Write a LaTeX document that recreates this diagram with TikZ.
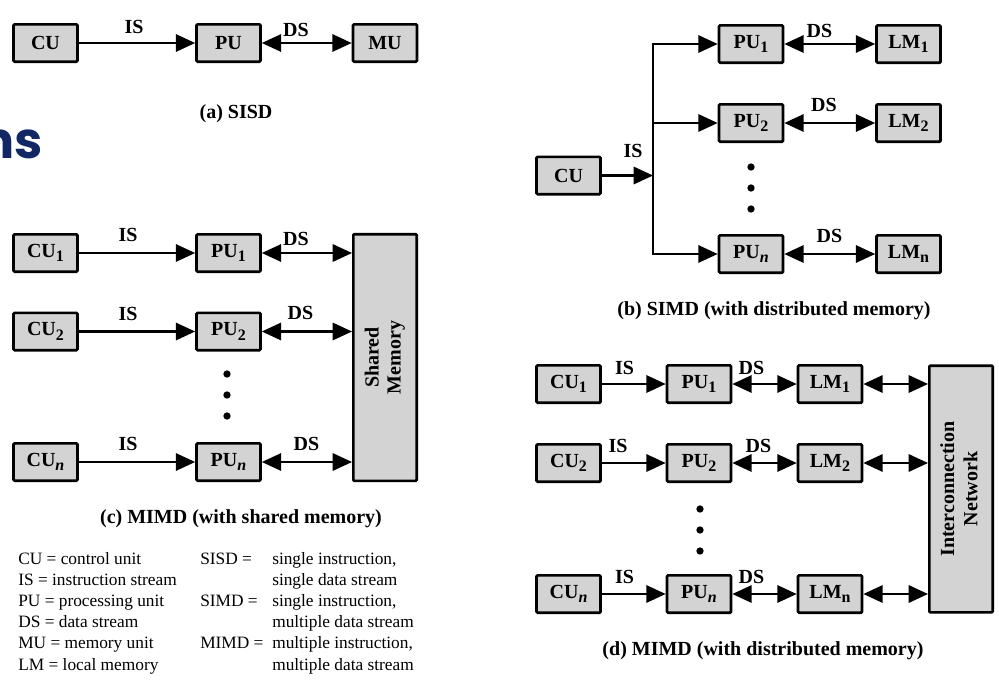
\documentclass[tikz,border=0pt]{standalone}
\usepackage{fontspec}
\setmainfont{Liberation Serif}
\newfontfamily\titlefont{Poppins}
\usetikzlibrary{arrows.meta}
\definecolor{boxgray}{RGB}{211,211,211}
\definecolor{navytitle}{RGB}{18,40,100}
\newcommand\ix[1]{\raisebox{-3.5pt}{\fontsize{12}{12}\selectfont #1}}
\begin{document}
\begin{tikzpicture}[x=0.75pt,y=-0.75pt,
  box/.style={draw=black,line width=2pt,rounded corners=0.8pt,fill=boxgray,minimum width=48pt,minimum height=28pt,inner sep=0pt,font=\fontsize{15}{18}\selectfont\bfseries},
  tall/.style={box,minimum width=47.5pt,minimum height=185pt,align=center,font=\fontsize{15}{17.5}\selectfont\bfseries},
  lbl/.style={font=\fontsize{15}{18}\selectfont\bfseries,inner sep=0pt},
  leg/.style={font=\fontsize{13}{15}\selectfont,inner sep=0pt,anchor=base west},
  tip/.tip={Triangle[length=14.5pt,width=13pt]},
  conn/.style={line width=1.6pt,-tip},
  bi/.style={line width=1.6pt,tip-tip},
  plain/.style={line width=1.6pt},
  dot/.style={circle,fill=black,inner sep=0pt,minimum size=5.5pt}]
\useasboundingbox (0,0) rectangle (999,686);

% slide title fragment
\node[anchor=base east,inner sep=0pt,text=navytitle,font=\titlefont\bfseries\fontsize{38}{40}\selectfont] (title) at (43,158) {ns};

% (a) SISD
\node[box] (aCU) at (45.5,43) {CU};
\node[box] (aPU) at (228.5,43) {PU};
\node[box] (aMU) at (385,43) {MU};
\draw[conn] (aCU) -- (aPU);
\draw[bi] (aPU) -- (aMU);
\node[lbl] (aIS) at (134,26.5) {IS};
\node[lbl] (aDS) at (296,29.5) {DS};
\node[lbl,anchor=base] (acap) at (236,118) {(a) SISD};

% (c) MIMD shared memory
\node[tall] (cSM) at (385,357.5) {\rotatebox{90}{\begin{tabular}{@{}c@{}}Shared\\[-1pt] Memory\end{tabular}}};
\node[box] (cCU1) at (45.5,253) {CU\ix{1}};
\node[box] (cPU1) at (228.5,253) {PU\ix{1}};
\node[box] (cCU2) at (45.5,331.5) {CU\ix{2}};
\node[box] (cPU2) at (228.5,331.5) {PU\ix{2}};
\node[box] (cCUn) at (45.5,462) {CU\ix{\textit{n}}};
\node[box] (cPUn) at (228.5,462) {PU\ix{\textit{n}}};
\draw[conn] (cCU1) -- (cPU1);
\draw[conn] (cCU2) -- (cPU2);
\draw[conn] (cCUn) -- (cPUn);
\draw[bi] (cPU1) -- (cPU1 -| cSM.west);
\draw[bi] (cPU2) -- (cPU2 -| cSM.west);
\draw[bi] (cPUn) -- (cPUn -| cSM.west);
\node[lbl] (cIS1) at (128,235) {IS};
\node[lbl] (cIS2) at (128,314) {IS};
\node[lbl] (cISn) at (128,444) {IS};
\node[lbl] (cDS1) at (296,238.5) {DS};
\node[lbl] (cDS2) at (300.5,313) {DS};
\node[lbl] (cDSn) at (306.5,444) {DS};
\node[dot] (cd1) at (227,374) {};
\node[dot] (cd2) at (227,395) {};
\node[dot] (cd3) at (227,416) {};
\node[lbl,anchor=base] (ccap) at (241,523) {(c) MIMD (with shared memory)};

% (b) SIMD distributed memory
\node[box] (bCU) at (568.5,175.5) {CU};
\coordinate (bJ) at (653,175.5);
\node[box] (bPU1) at (751,44) {PU\ix{1}};
\node[box] (bPU2) at (751,123) {PU\ix{2}};
\node[box] (bPUn) at (751,254) {PU\ix{\textit{n}}};
\node[box] (bLM1) at (908.5,44) {LM\ix{1}};
\node[box] (bLM2) at (908.5,123) {LM\ix{2}};
\node[box] (bLMn) at (908.5,254) {LM\ix{n}};
\draw[conn] (bCU) -- (bJ);
\draw[plain,line cap=rect] (bJ |- bPU1) -- (bJ |- bPUn);
\draw[conn] (bJ |- bPU1) -- (bPU1);
\draw[conn] (bJ |- bPU2) -- (bPU2);
\draw[conn] (bJ |- bPUn) -- (bPUn);
\draw[bi] (bPU1) -- (bLM1);
\draw[bi] (bPU2) -- (bLM2);
\draw[bi] (bPUn) -- (bLMn);
\node[lbl] (bIS) at (633,151) {IS};
\node[lbl] (bDS1) at (819.5,30.5) {DS};
\node[lbl] (bDS2) at (824,105) {DS};
\node[lbl] (bDSn) at (829.5,236) {DS};
\node[dot] (bd1) at (751,167) {};
\node[dot] (bd2) at (751,188) {};
\node[dot] (bd3) at (751,209) {};
\node[lbl,anchor=base] (bcap) at (774,315) {(b) SIMD (with distributed memory)};

% (d) MIMD distributed memory
\node[tall] (dIN) at (961,489) {\rotatebox{90}{\begin{tabular}{@{}c@{}}Interconnection\\[0pt] Network\end{tabular}}};
\node[box] (dCU1) at (568.5,384) {CU\ix{1}};
\node[box] (dPU1) at (699,384) {PU\ix{1}};
\node[box] (dLM1) at (830,384) {LM\ix{1}};
\node[box] (dCU2) at (568.5,463) {CU\ix{2}};
\node[box] (dPU2) at (699,463) {PU\ix{2}};
\node[box] (dLM2) at (830,463) {LM\ix{2}};
\node[box] (dCUn) at (568.5,594) {CU\ix{\textit{n}}};
\node[box] (dPUn) at (699,594) {PU\ix{\textit{n}}};
\node[box] (dLMn) at (830,594) {LM\ix{n}};
\draw[conn] (dCU1) -- (dPU1);
\draw[conn] (dCU2) -- (dPU2);
\draw[conn] (dCUn) -- (dPUn);
\draw[bi] (dPU1) -- (dLM1);
\draw[bi] (dPU2) -- (dLM2);
\draw[bi] (dPUn) -- (dLMn);
\draw[bi] (dLM1) -- (dLM1 -| dIN.west);
\draw[bi] (dLM2) -- (dLM2 -| dIN.west);
\draw[bi] (dLMn) -- (dLMn -| dIN.west);
\node[lbl] (dIS1) at (624.5,367.5) {IS};
\node[lbl] (dIS2) at (618,446) {IS};
\node[lbl] (dISn) at (624.5,576.5) {IS};
\node[lbl] (dDS1) at (751.5,367.5) {DS};
\node[lbl] (dDS2) at (758.5,446) {DS};
\node[lbl] (dDSn) at (751.5,576.5) {DS};
\node[dot] (dd1) at (700,509) {};
\node[dot] (dd2) at (700,530) {};
\node[dot] (dd3) at (700,551) {};
\node[lbl,anchor=base] (dcap) at (763,655) {(d) MIMD (with distributed memory)};

% legend
\foreach \t [count=\i from 0] in {CU = control unit, IS = instruction stream, PU = processing unit, DS = data stream, MU = memory unit, LM = local memory}
  \node[leg] (lga\i) at (18,564+21.2*\i) {\t};
\node[leg] (lgb0) at (200,564) {SISD =};
\node[leg] (lgb2) at (200,606.4) {SIMD =};
\node[leg] (lgb4) at (200,648.8) {MIMD =};
\foreach \t [count=\i from 0] in {{single instruction,}, single data stream, {single instruction,}, multiple data stream, {multiple instruction,}, multiple data stream}
  \node[leg] (lgc\i) at (272,564+21.2*\i) {\t};
\end{tikzpicture}
\end{document}
